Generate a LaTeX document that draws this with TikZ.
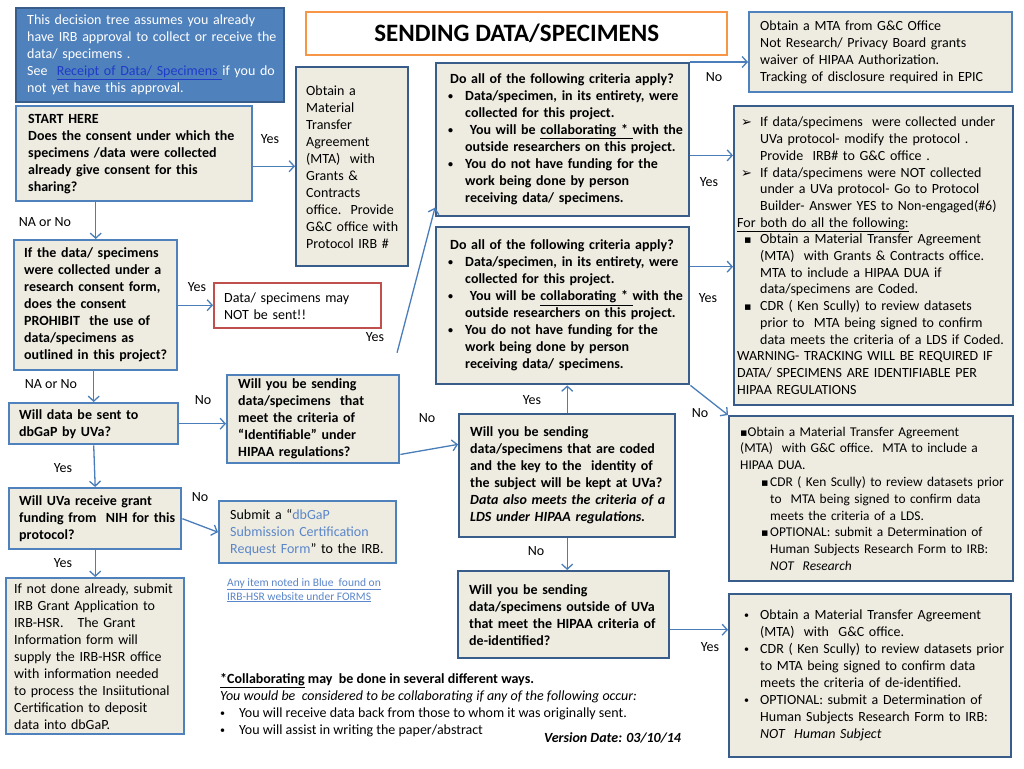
\documentclass[tikz,border=0pt]{standalone}
\usepackage{fontspec}
\setmainfont{Carlito}
\newfontfamily\symfont{DejaVu Sans}
\usetikzlibrary{arrows.meta}

\definecolor{boxfill}{HTML}{EEECE1}
\definecolor{steel}{HTML}{4F81BD}
\definecolor{navy}{HTML}{385D8A}
\definecolor{arrowblue}{HTML}{4A7EBB}
\definecolor{introfill}{HTML}{4F81BD}
\definecolor{warnred}{HTML}{C0504D}
\definecolor{titleorange}{HTML}{F79646}
\definecolor{linkblue}{HTML}{1F3BC8}
\definecolor{formblue}{HTML}{5B86C9}

\newcommand{\fs}{\fontsize{14}{17}\selectfont}
\newcommand{\smalldot}{\raisebox{1pt}{\fontsize{10}{12}\selectfont\textbullet}}
\newcommand{\bul}[1][17pt]{\makebox[#1][l]{\smalldot}}
\newcommand{\ind}[1][17pt]{\hspace*{#1}}
\newcommand{\arr}{\hspace*{4pt}\makebox[19pt][l]{\symfont\fontsize{13}{16}\selectfont ➢}}
\newcommand{\sqb}[1][16pt]{\makebox[#1][l]{\symfont\fontsize{11}{16}\selectfont ▪}}

\begin{document}
\begin{tikzpicture}[x=1pt, y=-1pt,
  >={Straight Barb[length=5pt,width=11pt]},
  box/.style={draw=steel, fill=boxfill, line width=2.4pt, anchor=north west,
    align=left, inner ysep=2pt, font=\fs,
    execute at begin node={\rightskip=0pt plus 1fil minus 100pt\relax
      \hyphenpenalty=10000 \exhyphenpenalty=10000 }},
  darkbox/.style={box, draw=navy},
  qbox/.style={box, font=\fs\bfseries},
  darkqbox/.style={darkbox, font=\fs\bfseries},
  lbl/.style={font=\fs, inner sep=0pt},
  link/.style={->, draw=arrowblue, line width=1.3pt}
]
\fill[white] (0,0) rectangle (1024,768);

% left column
\node[box, draw=navy, fill=introfill, text=white, inner xsep=11pt, text width=246pt, minimum height=94pt] (intro) at (15,7)
  {This decision tree assumes you already\\
   have IRB approval to collect or receive the\\
   data/ specimens .\\
   See \ {\color{linkblue}\underline{Receipt of Data/ Specimens\ }}if you do\\
   not yet have this approval.};
\node[qbox, inner xsep=12pt, text width=212pt, minimum height=95pt] (start) at (15,105)
  {START HERE\\ Does the consent under which the\\ specimens /data were collected\\
   already give consent for this\\ sharing?};
\node[qbox, inner xsep=10pt, text width=143pt, minimum height=130pt] (prohibit) at (13,239)
  {If the data/ specimens\\ were collected under a\\ research consent form,\\ does the consent\\
   PROHIBIT\ \ the use of\\ data/specimens as\\ outlined in this project?};
\node[qbox, inner xsep=10pt, text width=149pt, minimum height=41pt] (dbgap) at (8,402)
  {Will data be sent to\\ dbGaP by UVa?};
\node[qbox, inner xsep=10pt, text width=152pt, minimum height=61pt] (grant) at (8,487)
  {Will UVa receive grant\\ funding from\ \ NIH for this\\ protocol?};
\node[box, inner xsep=8pt, text width=162pt, minimum height=156pt] (ifnot) at (5,577)
  {If not done already, submit\\ IRB Grant Application to\\ IRB-HSR.\ \ \ The Grant\\
   Information form will\\ supply the IRB-HSR office\\ with information needed\\
   to process the Insiitutional\\ Certification to deposit\\ data into dbGaP.};

% middle column
\node[draw=titleorange, fill=white, line width=2.4pt, anchor=north west, minimum width=421pt,
  minimum height=43pt, font=\fontsize{25}{28}\selectfont\bfseries] (title) at (305,11) {SENDING DATA/SPECIMENS};
\node[darkbox, inner xsep=10pt, text width=92pt, minimum height=199pt] (mta) at (295,66)
  {Obtain a\\ Material\\ Transfer\\ Agreement\\ (MTA)\ \ with\\ Grants \&\\ Contracts\\
   office.\ \ Provide\\ G\&C office with\\ Protocol IRB \#};
\node[box, draw=warnred, fill=white, inner xsep=10pt, text width=147pt, minimum height=45pt] (notsent) at (213,282)
  {Data/ specimens may\\ NOT be sent!!};
\node[qbox, inner xsep=11pt, text width=150pt, minimum height=88pt] (ident) at (226,374)
  {Will you be sending\\ data/specimens\ \ that\\ meet the criteria of\\
   “Identifiable” under\\ HIPAA regulations?};
\node[box, inner xsep=11pt, text width=155pt, minimum height=62pt] (submit) at (218,500)
  {Submit a “{\color{formblue}dbGaP}\\ {\color{formblue}Submission Certification}\\
   {\color{formblue}Request Form}” to the IRB.};
\node[anchor=north west, align=left, inner sep=0pt, text=formblue, font=\fontsize{11.5}{14}\selectfont] (note) at (227,578)
  {\underline{Any item noted in Blue\ \ found on}\\ \underline{IRB-HSR website under FORMS}};

\node[darkqbox, inner xsep=12pt, text width=229pt, minimum height=153pt] (crit1) at (435,62)
  {\hspace*{2pt}Do all of the following criteria apply?\\
   \bul Data/specimen, in its entirety, were\\
   \ind collected for this project.\\
   \bul\ You will be \underline{collaborating *\ }with the\\
   \ind outside researchers on this project.\\
   \bul You do not have funding for the\\
   \ind work being done by person\\
   \ind receiving data/ specimens.};
\node[darkqbox, inner xsep=12pt, text width=229pt, minimum height=157pt] (crit2) at (435,226)
  {\hspace*{2pt}Do all of the following criteria apply?\\
   \bul Data/specimen, in its entirety, were\\
   \ind collected for this project.\\
   \bul\ You will be \underline{collaborating *\ }with the\\
   \ind outside researchers on this project.\\
   \bul You do not have funding for the\\
   \ind work being done by person\\
   \ind receiving data/ specimens.};
\node[darkqbox, inner xsep=11pt, text width=194pt, minimum height=123pt] (coded) at (458,413)
  {Will you be sending\\ data/specimens that are coded\\ and the key to the\ \ identity of\\
   the subject will be kept at UVa?\\ \textit{Data also meets the criteria of a}\\
   \textit{LDS under HIPAA regulations.}};
\node[darkqbox, inner xsep=11pt, text width=189pt, minimum height=87pt] (deident) at (457,570)
  {Will you be sending\\ data/specimens outside of UVa\\ that meet the HIPAA criteria of\\ de-identified?};

% right column
\node[box, inner xsep=11pt, text width=241pt, minimum height=80pt] (waiver) at (748,11)
  {Obtain a MTA from G\&C Office\\ Not Research/ Privacy Board grants\\
   waiver of HIPAA Authorization.\\ Tracking of disclosure required in EPIC};
\node[darkbox, inner xsep=3pt, text width=273pt, minimum height=299pt, font=\fontsize{14}{16.7}\selectfont] (modify) at (733,105)
  {\arr If data/specimens\ \ were collected under\\
   \ind[23pt]UVa protocol- modify the protocol .\\
   \ind[23pt]Provide\ \ IRB\# to G\&C office .\\
   \arr If data/specimens were NOT collected\\
   \ind[23pt]under a UVa protocol- Go to Protocol\\
   \ind[23pt]Builder- Answer YES to Non-engaged(\#6)\\
   \underline{For both do all the following:}\\
   \hspace*{7pt}\sqb Obtain a Material Transfer Agreement\\
   \ind[23pt](MTA)\ \ with Grants \& Contracts office.\\
   \ind[23pt]MTA to include a HIPAA DUA if\\
   \ind[23pt]data/specimens are Coded.\\
   \hspace*{7pt}\sqb CDR ( Ken Scully) to review datasets\\
   \ind[23pt]prior to\ \ MTA being signed to confirm\\
   \ind[23pt]data meets the criteria of a LDS if Coded.\\
   WARNING- TRACKING WILL BE REQUIRED IF\\
   DATA/ SPECIMENS ARE IDENTIFIABLE PER\\
   HIPAA REGULATIONS};
\node[darkbox, inner xsep=11pt, text width=262pt, minimum height=165pt, font=\fontsize{13.4}{16.8}\selectfont] (lds) at (728,415)
  {{\symfont\fontsize{11}{16}\selectfont ▪}Obtain a Material Transfer Agreement\\
   (MTA)\ \ with G\&C office.\ \ MTA to include a\\
   HIPAA DUA.\\
   \hspace*{21pt}\sqb[9pt]CDR ( Ken Scully) to review datasets prior\\
   \ind[30pt]to\ \ MTA being signed to confirm data\\
   \ind[30pt]meets the criteria of a LDS.\\
   \hspace*{21pt}\sqb[9pt]OPTIONAL: submit a Determination of\\
   \ind[30pt]Human Subjects Research Form to IRB:\\
   \ind[30pt]\textit{NOT\ \ Research}};
\node[darkbox, inner xsep=15pt, text width=252pt, minimum height=163pt] (deid) at (728,593)
  {\bul[16pt]Obtain a Material Transfer Agreement\\
   \ind[16pt](MTA)\ \ with\ \ G\&C office.\\
   \bul[16pt]CDR ( Ken Scully) to review datasets prior\\
   \ind[16pt]to MTA being signed to confirm data\\
   \ind[16pt]meets the criteria of de-identified.\\
   \bul[16pt]OPTIONAL: submit a Determination of\\
   \ind[16pt]Human Subjects Research Form to IRB:\\
   \ind[16pt]\textit{NOT\ \ Human Subject}};

% footnote
\node[anchor=north west, align=left, inner sep=0pt, font=\fs] (collab) at (220,673)
  {\textbf{\underline{*Collaborating}} \textbf{may\ \ be done in several different ways.}\\
   \textit{You would be\ \ considered to be collaborating if any of the following occur:}\\
   \makebox[19pt][l]{\smalldot}You will receive data back from those to whom it was originally sent.\\
   \makebox[19pt][l]{\smalldot}You will assist in writing the paper/abstract};
\node[anchor=west, inner sep=0pt, font=\fs\bfseries\itshape] (version) at (544,738) {Version Date: 03/10/14};

% connectors
\draw[link] (start.-6) -- (start.-6 -| mta.west);
\draw[link] (prohibit.north |- start.south) -- (prohibit.north);
\draw[link] (prohibit.east) -- (prohibit.east -| notsent.west);
\draw[link] (dbgap.north |- prohibit.south) -- (dbgap.north);
\draw[link] (dbgap.east) -- (dbgap.east -| ident.west);
\draw[link] (dbgap.south) -- (grant.north);
\draw[link] (grant.east) -- (submit.west);
\draw[link] (grant.south) -- (ifnot.north);
\draw[link, shorten <=22pt] (ident.30) -- (crit1.208);
\draw[link] (ident.-22) -- (coded.164);
\draw[link] (coded.north) -- (coded.north |- crit2.south);
\draw[link] (coded.south) -- (coded.south |- deident.north);
\draw[link] (crit1.north east) -- (crit1.north east -| waiver.west);
\draw[link] (crit1.-7) -- (crit1.-7 -| modify.west);
\draw[link] (crit2.17) -- (crit2.17 -| modify.west);
\draw[link] (crit2.south east) -- (lds.north west);
\draw[link] (deident.-8) -- (deident.-8 -| deid.west);

% labels
\node[lbl] (yes1) at (270,139) {Yes};
\node[lbl] (nano1) at (45,222) {NA or No};
\node[lbl] (yes2) at (197,287) {Yes};
\node[lbl] (yes3) at (375,337) {Yes};
\node[lbl] (nano2) at (51,384) {NA or No};
\node[lbl] (no1) at (203,400) {No};
\node[lbl] (yes4) at (63,468) {Yes};
\node[lbl] (no2) at (200,497) {No};
\node[lbl] (yes5) at (63,563) {Yes};
\node[lbl] (no3) at (427,418) {No};
\node[lbl] (yes6) at (532,400) {Yes};
\node[lbl] (no4) at (536,551) {No};
\node[lbl] (no5) at (714,77) {No};
\node[lbl] (yes7) at (709,182) {Yes};
\node[lbl] (yes8) at (708,298) {Yes};
\node[lbl] (no6) at (700,413) {No};
\node[lbl] (yes9) at (710,647) {Yes};
\end{tikzpicture}
\end{document}
